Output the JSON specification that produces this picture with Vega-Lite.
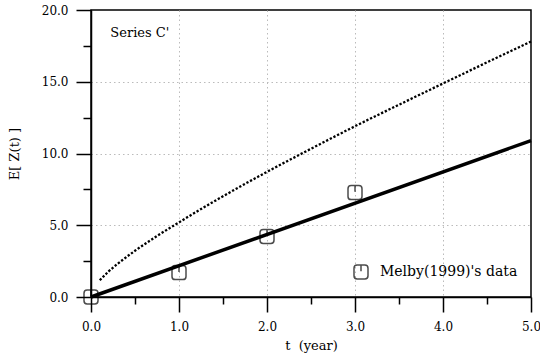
{
  "$schema": "https://vega.github.io/schema/vega-lite/v6.json",
  "width": 440,
  "height": 287,
  "autosize": "none",
  "padding": {"left": 91, "top": 10, "right": 9, "bottom": 59},
  "background": "white",
  "config": {
    "view": {"stroke": "black", "strokeWidth": 1.5},
    "font": "DejaVu Serif",
    "axis": {
      "labelFont": "DejaVu Serif",
      "titleFont": "DejaVu Serif",
      "labelColor": "black",
      "titleColor": "black",
      "labelFontSize": 12,
      "titleFontSize": 13,
      "titleFontWeight": "normal",
      "domainColor": "black",
      "domainWidth": 1.5,
      "tickColor": "black",
      "tickWidth": 1.5,
      "labelFlush": false
    },
    "legend": {"labelFont": "DejaVu Serif"}
  },
  "datasets": {
    "upper": [
      {"t": 0.1, "v": 1.17},
      {"t": 0.2, "v": 1.78},
      {"t": 0.3, "v": 2.3},
      {"t": 0.5, "v": 3.22},
      {"t": 0.75, "v": 4.25},
      {"t": 1.0, "v": 5.2},
      {"t": 1.25, "v": 6.13},
      {"t": 1.5, "v": 7.02},
      {"t": 2.0, "v": 8.72},
      {"t": 2.5, "v": 10.33},
      {"t": 3.0, "v": 11.9},
      {"t": 3.5, "v": 13.4},
      {"t": 4.0, "v": 14.88},
      {"t": 4.5, "v": 16.35},
      {"t": 5.0, "v": 17.8}
    ],
    "mean": [
      {"t": 0, "v": 0},
      {"t": 5, "v": 10.9}
    ],
    "obs": [
      {"t": 0, "v": 0, "series": "Melby(1999)'s data"},
      {"t": 1, "v": 1.7, "series": "Melby(1999)'s data"},
      {"t": 2, "v": 4.22, "series": "Melby(1999)'s data"},
      {"t": 3, "v": 7.28, "series": "Melby(1999)'s data"}
    ],
    "label": [
      {"t": 0.22, "v": 18.4, "text": "Series C'"}
    ]
  },
  "layer": [
    {
      "data": {"name": "upper"},
      "mark": {"type": "line", "color": "black", "strokeWidth": 2.3, "strokeDash": [2.3, 1.8], "interpolate": "monotone"},
      "encoding": {
        "x": {
          "field": "t", "type": "quantitative",
          "scale": {"domain": [0, 5], "nice": false, "zero": false},
          "axis": {
            "orient": "bottom", "values": [0, 1, 2, 3, 4, 5], "format": ".1f",
            "tickSize": 15, "labelPadding": 9, "grid": false,
            "title": "t\u00a0 (year)", "titlePadding": 7
          }
        },
        "y": {
          "field": "v", "type": "quantitative",
          "scale": {"domain": [0, 20], "nice": false, "zero": false},
          "axis": {
            "orient": "left", "values": [0, 5, 10, 15, 20], "format": ".1f",
            "tickSize": 15, "labelPadding": 8, "grid": false,
            "title": "E[ Z(t) ]", "titlePadding": 20
          }
        }
      }
    },
    {
      "data": {"name": "mean"},
      "mark": {"type": "line", "color": "black", "strokeWidth": 3.5},
      "encoding": {
        "x": {
          "field": "t", "type": "quantitative",
          "axis": {
            "orient": "bottom", "values": [0.5, 1.5, 2.5, 3.5, 4.5],
            "tickSize": 7, "labels": false, "domain": false, "grid": false, "title": null
          }
        },
        "y": {
          "field": "v", "type": "quantitative",
          "axis": {
            "orient": "left", "values": [2.5, 7.5, 12.5, 17.5],
            "tickSize": 8, "labels": false, "domain": false, "grid": false, "title": null
          }
        }
      }
    },
    {
      "data": {"name": "obs"},
      "mark": {"type": "point", "filled": false, "stroke": "black", "strokeWidth": 1.5, "size": 196},
      "encoding": {
        "x": {
          "field": "t", "type": "quantitative",
          "axis": {
            "orient": "bottom", "values": [1, 2, 3, 4],
            "ticks": false, "labels": false, "domain": false, "grid": true,
            "gridColor": "#bbbbbb", "gridDash": [1.5, 3], "gridWidth": 1, "title": null
          }
        },
        "y": {
          "field": "v", "type": "quantitative",
          "axis": {
            "orient": "left", "values": [5, 10, 15],
            "ticks": false, "labels": false, "domain": false, "grid": true,
            "gridColor": "#bbbbbb", "gridDash": [1.5, 3], "gridWidth": 1, "title": null
          }
        },
        "shape": {
          "field": "series", "type": "nominal",
          "scale": {"range": ["M-0.55,-1L0.55,-1Q1,-1,1,-0.55L1,0.55Q1,1,0.55,1L-0.55,1Q-1,1,-1,0.55L-1,-0.55Q-1,-1,-0.55,-1ZM0,-1L0,-0.1"]},
          "legend": {
            "orient": "none", "legendX": 262, "legendY": 254, "title": null,
            "padding": 0, "labelFontSize": 14,
            "labelColor": "black", "symbolSize": 196, "symbolStrokeWidth": 1.5,
            "symbolStrokeColor": "black", "labelOffset": 11
          }
        }
      }
    },
    {
      "data": {"name": "label"},
      "mark": {"type": "text", "align": "left", "baseline": "middle", "fontSize": 13, "color": "black"},
      "encoding": {
        "x": {"field": "t", "type": "quantitative", "axis": null},
        "y": {"field": "v", "type": "quantitative", "axis": null},
        "text": {"field": "text"}
      }
    }
  ],
  "resolve": {"axis": {"x": "independent", "y": "independent"}}
}
